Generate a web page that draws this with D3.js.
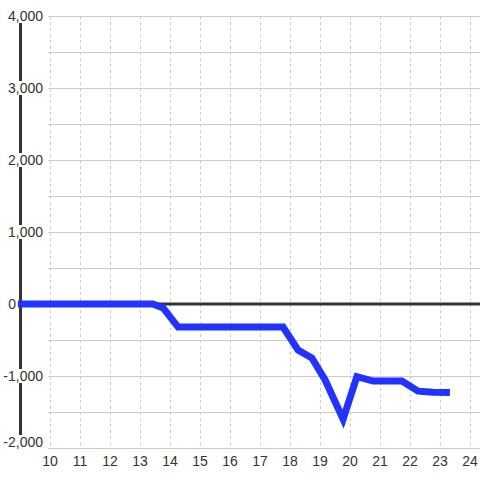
<!DOCTYPE html>
<html lang="en">
<head>
  <meta charset="UTF-8">
  <title>Line chart</title>
  <script src="https://d3js.org/d3.v7.min.js"></script>
  <style>
    body { margin: 0; background: #fff; }
    svg { display: block; font-family: 'Liberation Sans', Arial, sans-serif; }
    .hgrid line { stroke: #cccccc; stroke-width: 1; shape-rendering: crispEdges; }
    .vgrid line { stroke: #cccccc; stroke-width: 1; stroke-dasharray: 3,3; shape-rendering: crispEdges; }
    .tick-label { font-size: 14px; fill: #333; }
  </style>
</head>
<body>
  <svg width="480" height="480"></svg>
  <script>
    // data
    const xValues = [8.93, 13.43, 13.77, 14.27, 17.77, 18.27, 18.73, 19.17, 19.77, 20.23, 20.77, 21.73, 22.27, 22.77, 23.33];
    const yValues = [0, 0, -55, -320, -320, -640, -750, -1055, -1600, -1010, -1070, -1070, -1210, -1225, -1230];
    const xTicks = [10, 11, 12, 13, 14, 15, 16, 17, 18, 19, 20, 21, 22, 23, 24];
    const yTicks = [4000, 3000, 2000, 1000, 0, -1000, -2000];
    const yGrid = [4000, 3500, 3000, 2500, 2000, 1500, 1000, 500, 0, -500, -1000, -1500, -2000];

    const svg = d3.select("svg");
    const points = xValues.map((x, i) => ({ x: x, y: yValues[i] }));

    const x = d3.scaleLinear().domain([9, 24.333]).range([20, 480]);
    const y = d3.scaleLinear().domain([-2000, 4000]).range([448, 16]);

    // horizontal grid
    svg.append("g").attr("class", "hgrid")
      .selectAll("line").data(yGrid).enter().append("line")
      .attr("x1", 48).attr("x2", 480)
      .attr("y1", d => Math.round(y(d)) + 0.5)
      .attr("y2", d => Math.round(y(d)) + 0.5);

    // vertical dashed grid
    svg.append("g").attr("class", "vgrid")
      .selectAll("line").data(xTicks).enter().append("line")
      .attr("x1", d => Math.round(x(d)) + 0.5)
      .attr("x2", d => Math.round(x(d)) + 0.5)
      .attr("y1", y(4000)).attr("y2", y(-2000));

    // zero line
    svg.append("line")
      .attr("x1", x(9)).attr("x2", 480)
      .attr("y1", y(0)).attr("y2", y(0))
      .attr("stroke", "#333").attr("stroke-width", 3);

    // y axis line
    svg.append("line")
      .attr("x1", x(9) + 0.5).attr("x2", x(9) + 0.5)
      .attr("y1", y(4000)).attr("y2", y(-2000))
      .attr("stroke", "#333").attr("stroke-width", 3);

    // data line
    const line = d3.line().x(d => x(d.x)).y(d => y(d.y));
    svg.append("path")
      .datum(points)
      .attr("d", line)
      .attr("fill", "none")
      .attr("stroke", "#2233ff")
      .attr("stroke-width", 7)
      .attr("stroke-linejoin", "miter");

    // y tick labels with white boxes over the axis
    const fmt = d3.format(",");
    const yl = svg.append("g");
    yTicks.forEach(v => {
      const cy = Math.min(y(v), 442);
      const t = yl.append("text")
        .attr("class", "tick-label")
        .attr("text-anchor", "end")
        .attr("x", v === 0 ? 16 : 43)
        .attr("y", cy)
        .attr("dy", "0.35em")
        .text(fmt(v).replace("−", "-"));
      const b = t.node().getBBox();
      yl.insert("rect", "text")
        .attr("x", b.x - 1).attr("y", cy - 7)
        .attr("width", b.width + 2).attr("height", 14)
        .attr("fill", "#fff");
    });

    // x tick labels
    svg.append("g")
      .selectAll("text").data(xTicks).enter().append("text")
      .attr("class", "tick-label")
      .attr("text-anchor", "middle")
      .attr("x", d => x(d))
      .attr("y", 461)
      .attr("dy", "0.35em")
      .text(d => d);
  </script>
</body>
</html>
